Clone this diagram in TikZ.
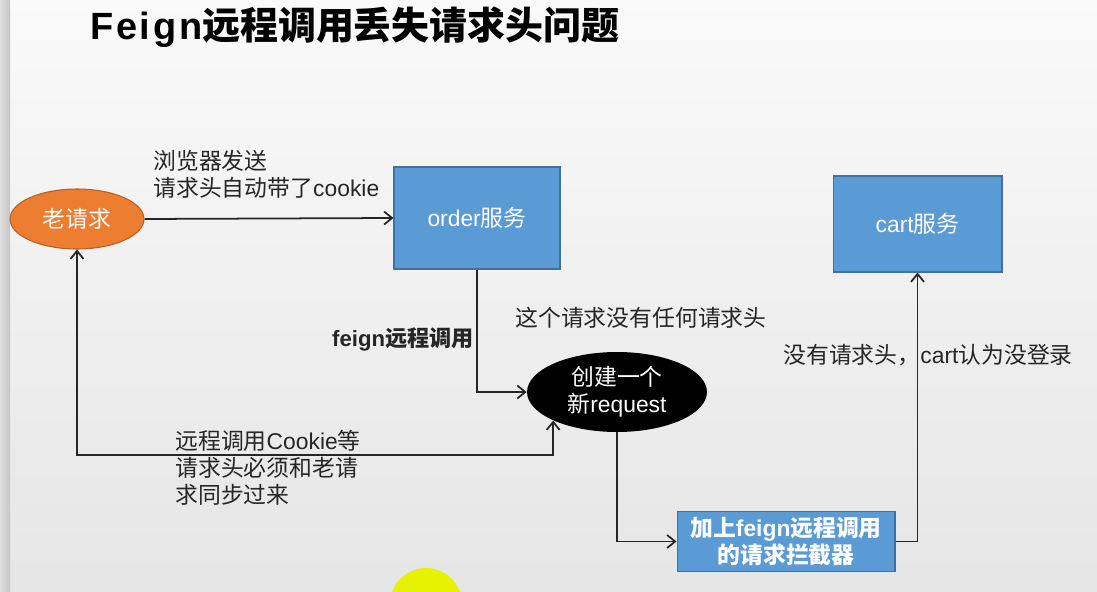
\documentclass[tikz,border=0pt]{standalone}
\usepackage{fontspec}
\setmainfont{Liberation Sans}
\newfontfamily\cjk{Noto Sans CJK SC}
\newfontfamily\titlelat[LetterSpace=7]{Liberation Sans}
\usetikzlibrary{positioning, arrows.meta, shapes.geometric, calc}
\usepackage{xcolor}
\definecolor{laranja}{HTML}{ED7D31}
\definecolor{laranjaborda}{HTML}{B85F22}
\definecolor{azul}{HTML}{5B9BD5}
\definecolor{azulborda}{HTML}{41719C}
\definecolor{amarelo}{RGB}{230,242,0}
\newcommand{\zh}[1]{{\cjk #1}}
\newcommand{\corpo}{\fontsize{13pt}{15.4pt}\selectfont}

\begin{document}
\begin{tikzpicture}[x=0.02cm, y=-0.02cm,
    seta/.style={line width=1pt, draw=black!85, -{Straight Barb[length=1.6mm,width=2.6mm]}},
    servico/.style={rectangle, fill=azul, draw=azulborda, line width=0.6pt, text=white, font=\corpo},
    rotulo/.style={font=\corpo, align=left, inner sep=0pt, text=black!85}]
    % Plano de fundo
    \useasboundingbox (0,0) rectangle (1097,591);
    \shade[top color=gray!4, bottom color=gray!20] (0,0) rectangle (1097,591);
    \shade[left color=gray!25, right color=gray!45] (0,0) rectangle (10,591);
    \begin{scope}
      \clip (0,0) rectangle (1097,591);
      \fill[amarelo] (426,604) circle (36);
    \end{scope}
    % Titulo
    \node[anchor=west, inner sep=0pt, font=\fontsize{21.6pt}{26pt}\selectfont\bfseries] (titulo) at (90,27)
      {{\titlelat Feign}\zh{远程调用丢失请求头问题}};
    % Requisicoes e servicos
    \node[ellipse, fill=laranja, draw=laranjaborda, line width=0.6pt, minimum width=2.68cm, minimum height=1.2cm,
      inner sep=0pt, text=white, font=\corpo] (velho) at (77,219) {\zh{老请求}};
    \node[servico, minimum width=3.32cm, minimum height=2.04cm] (order) at (477,218) {order\zh{服务}};
    \node[servico, minimum width=3.38cm, minimum height=1.92cm] (cart) at (917.5,224) {cart\zh{服务}};
    \node[ellipse, fill=black, minimum width=3.6cm, minimum height=1.6cm, inner sep=0pt, text=white,
      align=center, font=\corpo] (novo) at (617,392) {\zh{创建一个}\\\zh{新}request};
    \node[servico, minimum width=4.36cm, minimum height=1.18cm, align=center, font=\corpo\bfseries]
      (filtro) at (786,541.5) {\zh{加上}feign\zh{远程调用}\\\zh{的请求拦截器}};
    % Setas
    \coordinate (volta) at (300,455);
    \draw[seta] (velho.east) -- (order.west);
    \draw[seta] (order.south) |- (novo.west);
    \draw[seta, {Straight Barb[length=1.6mm,width=2.6mm]}-{Straight Barb[length=1.6mm,width=2.6mm]}]
      (velho.south) -- (velho.south |- volta) -| (novo.south west);
    \draw[seta] (novo.south) |- (filtro.west);
    \draw[seta] (filtro.east) -| (cart.south);
    % Rotulos
    \node[rotulo, anchor=west] (envio) at (153,174) {\zh{浏览器发送}\\\zh{请求头自动带了}cookie};
    \node[rotulo, anchor=east, font=\fontsize{12.6pt}{15pt}\selectfont\bfseries] (feign) at (474,339) {feign\zh{远程调用}};
    \node[rotulo, anchor=west] (semcab) at (515,318) {\zh{这个请求没有任何请求头}};
    \node[rotulo, anchor=west] (sinc) at (175,468) {\zh{远程调用}Cookie\zh{等}\\\zh{请求头必须和老请}\\\zh{求同步过来}};
    \node[rotulo, anchor=west] (login) at (783,355) {\zh{没有请求头，}cart\zh{认为没登录}};
  \end{tikzpicture}
\end{document}
